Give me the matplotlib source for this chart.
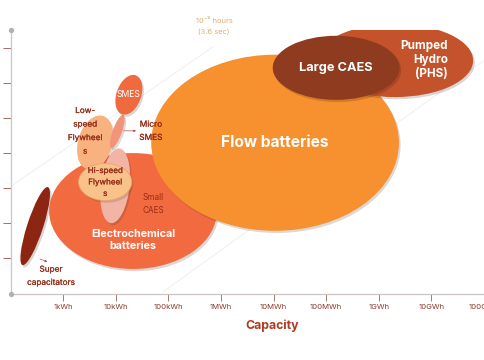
import matplotlib
matplotlib.use("Agg")
import matplotlib.pyplot as plt
import matplotlib.patheffects as pe
from matplotlib.patches import Ellipse

plt.rcParams["font.family"] = ["Inter", "DejaVu Sans"]

# ── data: x = log10(capacity in Wh), y = discharge-time scale position ──
tick_pos = [3, 4, 5, 6, 7, 8, 9, 10, 11]
tick_labels = ["1kWh", "10kWh", "100kWh", "1MWh", "10MWh", "100MWh",
               "1GWh", "10GWh", "100GWh"]
ytick_pos = [1, 2, 3, 4, 5, 6, 7]

# technology: (center x, center y, width, height, angle, colour)
techs = [
    ("Super capacitators",        2.47, 1.91, 2.28, 0.31, 78, "#8C2511"),
    ("Electrochemical batteries", 4.33, 2.34, 3.19, 3.31, 0,  "#F26A40"),
    ("Low-speed Flywheels",       3.61, 4.29, 1.57, 0.66, 82, "#F8B27F"),
    ("Small CAES",                3.99, 3.06, 2.14, 0.55, 86, "#F2B4A4"),
    ("Micro SMES",                4.03, 4.61, 0.97, 0.18, 77, "#F29478"),
    ("SMES",                      4.25, 5.66, 1.15, 0.48, 80, "#EF6A3E"),
    ("Hi-speed Flywheels",        3.80, 3.17, 1.01, 1.06, 0,  "#F9C28A"),
    ("Flow batteries",            7.03, 4.29, 4.71, 5.03, 0,  "#F7902F"),
    ("Pumped Hydro (PHS)",        9.31, 6.64, 2.97, 2.09, 0,  "#C4522B"),
    ("Large CAES",                8.19, 6.43, 2.41, 1.83, 0,  "#8E3B20"),
]

# constant-duration guide lines
guide1_x = [2.05, 5.85]
guide1_y = [3.09, 7.03]
guide2_x = [4.90, 11.02]
guide2_y = [0.03, 6.66]

DARK = "#962C18"
WHITE = "white"
heavy = [pe.withStroke(linewidth=0.12, foreground=DARK)]

fig = plt.figure(figsize=(4.85, 3.6), dpi=100)
ax = fig.add_axes([11 / 485, 66 / 360, 474 / 485, 264 / 360])
ax.set_xlim(2.01, 11.02)
ax.set_ylim(-0.03, 7.51)

ax.plot(guide1_x, guide1_y, color="#f1f1f1", lw=0.8, zorder=0)
ax.plot(guide2_x, guide2_y, color="#f1f1f1", lw=0.8, zorder=0)

shadow = [pe.SimplePatchShadow(offset=(1.2, -1.6), alpha=0.18), pe.Normal()]
for name, cx, cy, w, h, ang, col in techs:
    e = Ellipse((cx, cy), w, h, angle=ang, facecolor=col, edgecolor="none", zorder=2)
    if name == "Hi-speed Flywheels":
        e.set_edgecolor("#E9A66A")
        e.set_linewidth(0.6)
    e.set_path_effects(shadow)
    ax.add_patch(e)

# labels
ax.text(7.03, 4.29, "Flow batteries", color=WHITE, fontsize=11.2,
        fontweight="bold", ha="center", va="center", zorder=5)
ax.text(8.19, 6.43, "Large CAES", color=WHITE, fontsize=9.2,
        fontweight="bold", ha="center", va="center", zorder=5)
ax.text(10.32, 6.66, "Pumped\nHydro\n(PHS)", color=WHITE, fontsize=8.4,
        fontweight="bold", ha="right", va="center", ma="right",
        linespacing=1.2, zorder=5)
ax.text(4.33, 1.51, "Electrochemical\nbatteries", color=WHITE, fontsize=7.7,
        fontweight="bold", ha="center", va="center", linespacing=1.2, zorder=5)
ax.text(4.25, 5.66, "SMES", color=WHITE, fontsize=6.2,
        ha="center", va="center", zorder=5)
ax.text(2.77, 0.49, "Super\ncapacitators", color=DARK, fontsize=5.9,
        ha="center", va="center", linespacing=1.6, path_effects=heavy, zorder=5)
ax.annotate("", xy=(2.75, 0.86), xytext=(2.51, 1.0),
            arrowprops=dict(arrowstyle="-|>", color="#B05040", lw=0.5,
                            mutation_scale=3), zorder=5)
ax.text(4.67, 4.63, "Micro\nSMES", color=DARK, fontsize=6.0,
        ha="center", va="center", linespacing=1.6, path_effects=heavy, zorder=5)
ax.annotate("", xy=(4.44, 4.63), xytext=(4.10, 4.63),
            arrowprops=dict(arrowstyle="-|>", color="#B05040", lw=0.5,
                            mutation_scale=3), zorder=5)
ax.text(3.42, 4.63, "Low-\nspeed\nFlywheel\ns", color=DARK, fontsize=5.9,
        ha="center", va="center", linespacing=1.65, path_effects=heavy, zorder=5)
ax.text(3.80, 3.17, "Hi-speed\nFlywheel\ns", color=DARK, fontsize=5.8,
        ha="center", va="center", linespacing=1.35, path_effects=heavy, zorder=5)
ax.text(4.71, 2.54, "Small\nCAES", color=DARK, fontsize=5.9,
        ha="center", va="center", linespacing=1.7, zorder=5)
ax.text(5.87, 7.62, "10\u207b\u00b3 hours\n(3.6 sec)", color="#DDAF6E", fontsize=5.4,
        ha="center", va="center", linespacing=1.8, clip_on=False, zorder=5)

# axes styling
for s in ["top", "right"]:
    ax.spines[s].set_visible(False)
for s in ["left", "bottom"]:
    ax.spines[s].set_color("#cdc5c5")
    ax.spines[s].set_linewidth(0.9)
ax.set_xticks(tick_pos)
ax.set_xticklabels(tick_labels)
ax.set_yticks(ytick_pos)
ax.set_yticklabels([])
ax.tick_params(axis="x", direction="out", length=5, width=0.7, color="#a57a70",
               labelsize=5.6, labelcolor="#8A3A2A", pad=2.5)
ax.tick_params(axis="y", direction="out", length=6, width=0.7, color="#a86a60")
ax.plot([2.01, 2.01], [-0.03, 7.51], "o", color="#b5b0b0", ms=2.8,
        clip_on=False, zorder=6)

ax.set_xlabel("Capacity", color="#B03A22", fontsize=8.9, fontweight="bold")
ax.xaxis.set_label_coords(0.551, -0.095)

fig.savefig("out.png", dpi=100, facecolor="white")
